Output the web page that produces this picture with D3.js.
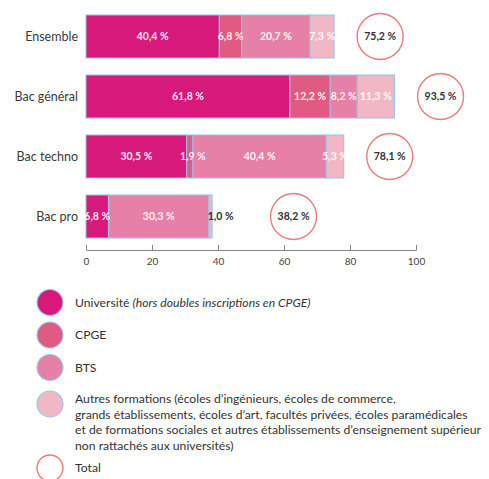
<!DOCTYPE html>
<html><head><meta charset="utf-8">
<script src="https://cdn.jsdelivr.net/npm/d3@7"></script>
<style>
body{margin:0;background:#fff;}
svg{display:block;font-family:Lato,"Open Sans",sans-serif;}
</style></head>
<body><svg id="c" width="489" height="479"></svg>
<script>
const categories = ["Ensemble","Bac général","Bac techno","Bac pro"];
const seriesNames = ["Université","CPGE","BTS","Autres formations"];
const universite = [40.4, 61.8, 30.5, 6.8];
const cpge       = [6.8, 12.2, 1.9, 0.1];
const bts        = [20.7, 8.2, 40.4, 30.3];
const autres     = [7.3, 11.3, 5.3, 1.0];
const totals     = [75.2, 93.5, 78.1, 38.2];
const xTicks     = [0, 20, 40, 60, 80, 100];
const colors     = ["#d6197a","#e05a82","#e680a6","#f2b7c4"];
const legendLabels = [
  [{t:"Université "},{t:"(hors doubles inscriptions en CPGE)",i:true}],
  [{t:"CPGE"}],
  [{t:"BTS"}],
  [{t:"Autres formations (écoles d’ingénieurs, écoles de commerce,"},
   {t:"grands établissements, écoles d’art, facultés privées, écoles paramédicales",br:true},
   {t:"et de formations sociales et autres établissements d’enseignement supérieur",br:true},
   {t:"non rattachés aux universités)",br:true}],
  [{t:"Total"}]
];

const fmt = v => String(v.toFixed(1)).replace(".", ",") + " %";
const svg = d3.select("#c");
const x = d3.scaleLinear().domain([0,100]).range([86,416]);
const y = d3.scaleBand().domain(categories).range([15,238]).paddingInner(17/60).paddingOuter(0);
const series = [universite, cpge, bts, autres];

const rows = categories.map((c,i)=>{
  let acc = 0;
  const segs = series.map((s,k)=>{ const x0=acc; acc+=s[i]; return {k, v:s[i], x0, x1:acc}; });
  return {c, i, segs, total: totals[i]};
});

const g = svg.append("g");
rows.forEach(r=>{
  const row = g.append("g");
  const yy = y(r.c), h = y.bandwidth();
  row.selectAll("rect.seg").data(r.segs).join("rect")
    .attr("x", d=>x(d.x0)).attr("y", yy)
    .attr("width", d=>Math.max(0, x(d.x1)-x(d.x0))).attr("height", h)
    .attr("fill", d=>colors[d.k])
    .attr("stroke", "#8fc6e6").attr("stroke-width", 1);
  let outsideEnd = null;
  r.segs.forEach(d=>{
    if (d.v < 0.5) return;
    const w = x(d.x1)-x(d.x0);
    const last = d.k === r.segs.length-1;
    if (w < 8 && last) {
      const t = row.append("text").attr("x", x(d.x0)-1).attr("y", yy+h/2)
        .attr("dy","0.35em").attr("font-size",10.5).attr("font-weight",700)
        .attr("fill","#333").text(fmt(d.v));
      outsideEnd = x(d.x0) - 1 + t.node().getComputedTextLength();
    } else {
      row.append("text").attr("x", (x(d.x0)+x(d.x1))/2 + (w<10?3:0)).attr("y", yy+h/2)
        .attr("dy","0.35em").attr("text-anchor","middle")
        .attr("font-size",10.5).attr("font-weight",700).attr("fill","#fff")
        .attr("fill-opacity",0.92).text(fmt(d.v));
    }
  });
  const cx = outsideEnd ? outsideEnd + 60 : x(r.total) + 46;
  const cy = yy + h/2;
  row.append("circle").attr("cx",cx).attr("cy",cy).attr("r",23)
    .attr("fill","#fff").attr("stroke","#ec7a7f").attr("stroke-width",1.4);
  row.append("text").attr("x",cx).attr("y",cy).attr("dy","0.35em").attr("text-anchor","middle")
    .attr("font-size",10.5).attr("font-weight",700).attr("fill","#333").text(fmt(r.total));
  row.append("text").attr("x",78).attr("y",cy).attr("dy","0.35em").attr("text-anchor","end")
    .attr("font-size",12.5).attr("fill","#3a3a3a").text(r.c);
});

const axis = d3.axisBottom(x).tickValues(xTicks).tickSize(-5).tickSizeOuter(0).tickPadding(8).tickFormat(d3.format("d"));
const ag = svg.append("g").attr("transform","translate(0,250)").call(axis);
ag.select(".domain").attr("stroke","#888");
ag.selectAll(".tick line").attr("stroke","#888");
ag.selectAll(".tick text").attr("font-family","Lato,sans-serif").attr("font-size",10).attr("fill","#444");

// legend
const legY = [302.5, 335, 367.5, 404, 468];
const lg = svg.append("g");
legendLabels.forEach((lab,i)=>{
  const cy = legY[i];
  if (i < 4) {
    lg.append("circle").attr("cx",50).attr("cy",cy).attr("r",13)
      .attr("fill",colors[i]).attr("stroke","#9cc9e6").attr("stroke-width",1.2);
  } else {
    lg.append("circle").attr("cx",50).attr("cy",cy).attr("r",13)
      .attr("fill","#fff").attr("stroke","#ec7a7f").attr("stroke-width",1.4);
  }
  const t = lg.append("text").attr("x",75).attr("y", i===3 ? cy-5 : cy).attr("dy","0.35em")
    .attr("font-size",12.2).attr("fill","#333");
  lab.forEach(p=>{
    const ts = t.append("tspan").text(p.t);
    if (p.i) ts.attr("font-style","italic");
    if (p.br) ts.attr("x",75).attr("dy", 15.5);
  });
});
</script></body></html>
